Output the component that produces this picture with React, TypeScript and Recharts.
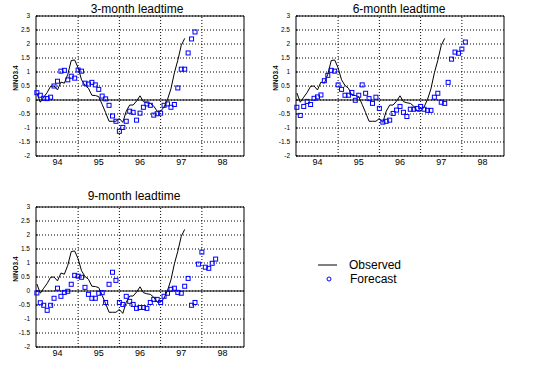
import React from 'react';
import { ComposedChart, Line, Scatter, XAxis, YAxis, CartesianGrid, ReferenceLine, ReferenceArea } from 'recharts';

// months since Jan 1994
const OBSERVED = [
  0.25, -0.08, 0.10, 0.27, 0.49, 0.50, 0.36, 0.64, 0.60, 0.92, 1.41, 1.43,
  1.15, 0.72, 0.52, 0.42, 0.17, 0.16, 0.12, -0.16, -0.45, -0.76, -0.76, -0.76,
  -0.66, -0.80, -0.40, -0.18, -0.18, -0.04, 0.15, -0.06, -0.10, -0.12, -0.22, -0.40,
  -0.40, -0.25, 0.02, 0.40, 0.97, 1.42, 1.95, 2.20,
];

const FORECAST_3 = [
  0.26, 0.17, 0.06, 0.05, 0.10, 0.50, 0.67, 1.03, 1.06, 0.72, 0.85, 0.78,
  1.07, 1.03, 0.60, 0.57, 0.63, 0.54, 0.38, 0.14, 0.04, -0.19, -0.57, -0.76,
  -1.12, -0.98, -0.76, -0.40, -0.44, -0.72, -0.47, -0.26, -0.14, -0.19, -0.54, -0.49,
  -0.47, -0.19, -0.14, -0.26, -0.16, 0.43, 1.10, 1.10, 1.68, 2.18, 2.43,
];

const FORECAST_6 = [
  -0.26, -0.55, -0.23, -0.05, -0.16, 0.06, 0.11, 0.18, 0.69, 0.88, 1.06, 1.03,
  0.54, 0.38, 0.17, 0.17, 0.27, -0.01, 0.17, 0.54, 0.24, 0.05, -0.12, 0.10,
  -0.30, -0.79, -0.76, -0.72, -0.48, -0.36, -0.23, -0.44, -0.59, -0.33, -0.33, -0.30,
  -0.23, -0.33, -0.37, -0.37, 0.10, 0.24, -0.08, -0.12, 0.63, 1.46, 1.71, 1.67,
  1.82, 2.07,
];

const FORECAST_9 = [
  -0.07, -0.42, -0.51, -0.69, -0.51, -0.26, 0.10, -0.19, -0.05, -0.01, 0.24, 0.56,
  0.53, 0.49, 0.13, -0.12, -0.26, -0.26, -0.08, -0.06, -0.41, 0.24, 0.67, 0.38,
  -0.41, -0.48, -0.19, -0.37, -0.48, -0.62, -0.59, -0.59, -0.62, -0.41, -0.30, -0.30,
  -0.41, -0.19, -0.08, 0.06, 0.10, -0.05, -0.08, 0.17, 0.45, -0.51, -0.41, 0.96,
  1.39, 0.85, 0.81, 0.99, 1.14,
];

const YEAR_LABELS = ['94', '95', '96', '97', '98'];
const YEAR_TICKS = [6, 18, 30, 42, 54]; // mid-year
const YEAR_BOUNDS = [12, 24, 36, 48];
const Y_TICKS = [-2, -1.5, -1, -0.5, 0, 0.5, 1, 1.5, 2, 2.5, 3];

const FONT = '"Liberation Sans", Arial, sans-serif';
const BLUE = '#0000ff';

const toRows = (arr: number[]) => arr.map((v, i) => ({ m: i, v }));

const Square = (props: any) => {
  const { cx, cy } = props;
  if (cx == null || cy == null) return null;
  return <rect x={cx - 2} y={cy - 2} width={4} height={4} fill="none" stroke={BLUE} strokeWidth={1} />;
};

const YLabel = (props: any) => {
  const { x, y, height } = props.viewBox;
  const cx = x + 15;
  const cy = y + height / 2 - 8;
  return (
    <text x={cx} y={cy} transform={`rotate(-90 ${cx} ${cy})`} textAnchor="middle" dominantBaseline="central"
      fontSize={6.5} fontWeight="bold" fontFamily={FONT} fill="#000">
      NINO3.4
    </text>
  );
};

interface PanelProps {
  left: number;
  top: number;
  title: string;
  titleX: number;
  titleTop: number;
  forecast: number[];
}

const Panel: React.FC<PanelProps> = ({ left, top, title, titleX, titleTop, forecast }) => (
  <>
    <div style={{ position: 'absolute', left: titleX - 100, top: titleTop, width: 200, textAlign: 'center',
      fontFamily: FONT, fontSize: 12, lineHeight: '12px', color: '#000' }}>
      {title}
    </div>
    <div style={{ position: 'absolute', left, top }}>
      <ComposedChart width={260} height={180} margin={{ top: 16, right: 16, bottom: 4, left: 0 }}>
        <CartesianGrid vertical={false} stroke="#000" strokeDasharray="1 2" />
        <XAxis dataKey="m" type="number" domain={[-0.25, 60.25]} ticks={YEAR_TICKS} interval={0}
          tickFormatter={(v: number, i: number) => YEAR_LABELS[i]} axisLine={false} tickLine={false}
          tickSize={0} tickMargin={3} height={20}
          tick={{ fontSize: 9, fill: '#000', fontFamily: FONT }} />
        <YAxis type="number" domain={[-2, 3]} ticks={Y_TICKS} interval={0} width={36} axisLine={false}
          tickSize={-2} tickMargin={8} tickLine={{ stroke: '#000' }}
          tick={{ fontSize: 6.5, fill: '#000', fontFamily: FONT }}
          label={{ content: YLabel }} />
        {YEAR_BOUNDS.map(b => (
          <ReferenceLine key={b} x={b} stroke="#000" strokeDasharray="1 2" />
        ))}
        <ReferenceLine y={0} stroke="#000" strokeWidth={1} />
        <ReferenceArea x1={-0.25} x2={60.25} y1={-2} y2={3} fill="none" stroke="#000" strokeWidth={1} fillOpacity={0} />
        <Scatter data={toRows(forecast)} dataKey="v" shape={Square} isAnimationActive={false} />
        <Line data={toRows(OBSERVED)} dataKey="v" type="linear" stroke="#000" strokeWidth={1}
          dot={false} activeDot={false} isAnimationActive={false} />
      </ComposedChart>
    </div>
  </>
);

export default function App() {
  return (
    <div style={{ position: 'absolute', left: 0, top: 0, width: 533, height: 367, background: '#fff', overflow: 'hidden' }}>
      <Panel left={0} top={0} title="3-month leadtime" titleX={137} titleTop={2.5} forecast={FORECAST_3} />
      <Panel left={260} top={0} title="6-month leadtime" titleX={399} titleTop={2.5} forecast={FORECAST_6} />
      <Panel left={0} top={191} title="9-month leadtime" titleX={134} titleTop={189.8} forecast={FORECAST_9} />
      <svg style={{ position: 'absolute', left: 0, top: 0 }} width={533} height={367}>
        <line x1={318} y1={265} x2={337} y2={265} stroke="#000" strokeWidth={1} />
        <text x={349} y={269.3} fontSize={12} fontFamily={FONT} fill="#000">Observed</text>
        <circle cx={329} cy={279} r={2} fill="none" stroke={BLUE} strokeWidth={1} />
        <text x={350} y={283.3} fontSize={12} fontFamily={FONT} fill="#000">Forecast</text>
      </svg>
    </div>
  );
}
